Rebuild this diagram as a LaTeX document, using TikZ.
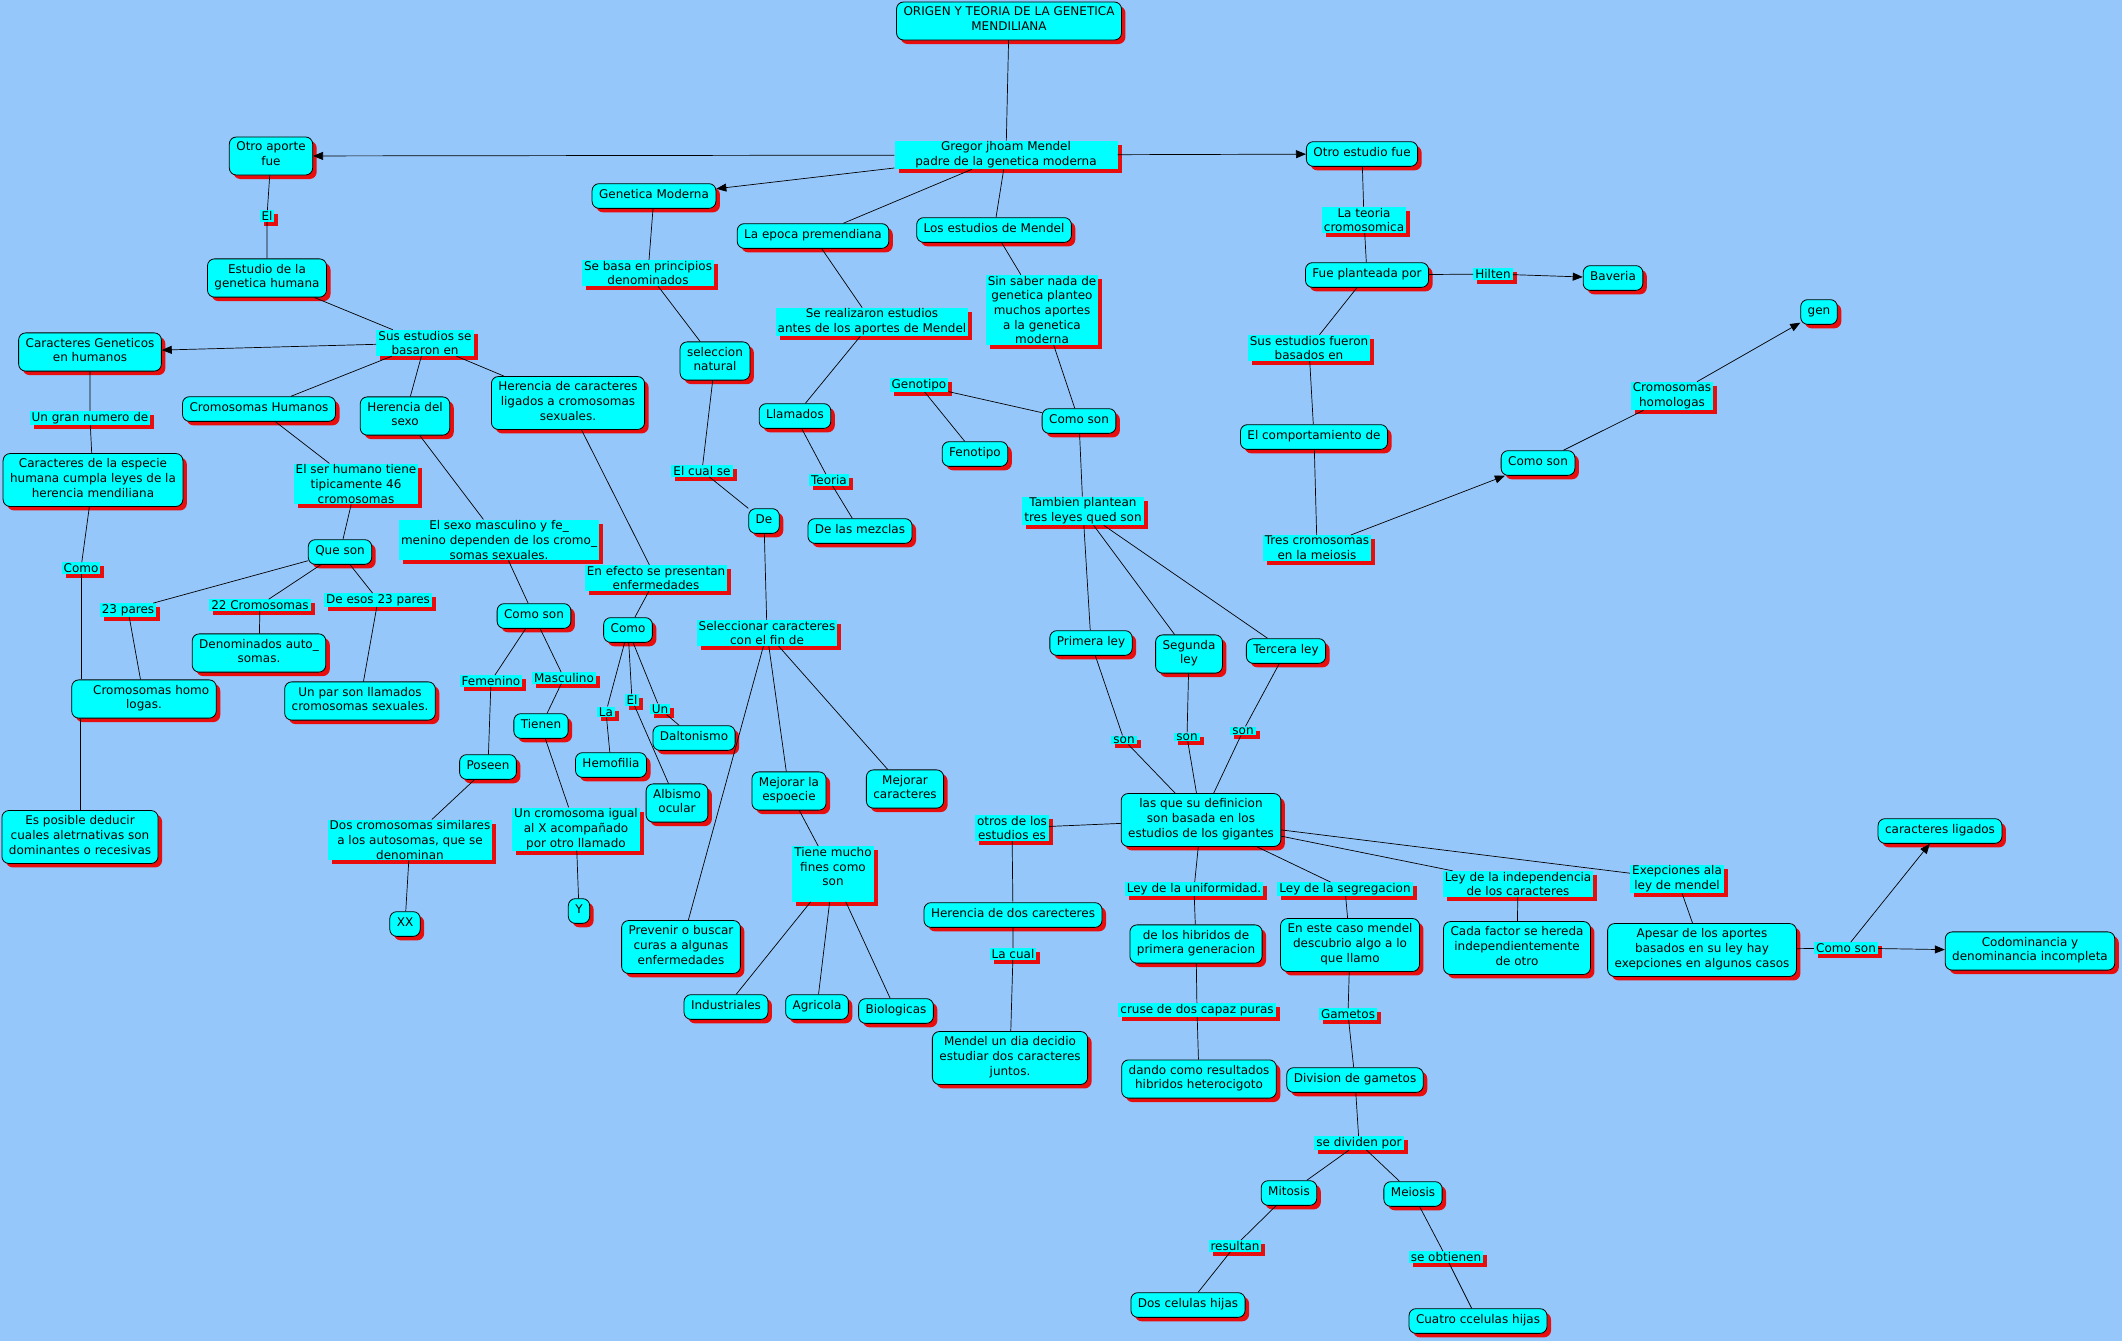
\documentclass[tikz,border=0pt]{standalone}
\usepackage{fontspec}
\setmainfont{DejaVu Sans}
\usepackage{xcolor}
\usepackage{tikz}
\usetikzlibrary{arrows.meta, positioning, shadows}
\definecolor{azulfondo}{RGB}{150,199,250}
\definecolor{cian}{RGB}{0,255,255}
\definecolor{sombra}{RGB}{232,14,14}

\begin{document}
\begin{tikzpicture}[
    x=1pt, y=-1pt,
    % 基础样式定义
    every node/.style={font=\fontsize{12}{14.7}\selectfont, align=center, text=black},
    % 概念节点
    concepto/.style={draw=black, fill=cian, rounded corners=7pt, line width=0.8pt,
        inner xsep=7pt, inner ysep=5pt,
        execute at begin node=\strut, execute at end node=\strut,
        drop shadow={shadow xshift=4pt, shadow yshift=-4pt, fill=sombra, opacity=1}},
    % 连接词
    enlace/.style={fill=cian, inner xsep=2pt, inner ysep=1pt,
        drop shadow={shadow xshift=4pt, shadow yshift=-4pt, fill=sombra, opacity=1}},
    % 连线
    linea/.style={draw=black, line width=0.7pt},
    flecha/.style={linea, -{Triangle[length=10pt, width=8pt]}}
]

% 背景
\path[use as bounding box, fill=azulfondo] (0,0) rectangle (2122,1341);

% 中心
\node[concepto] (titulo) at (1009,21) {ORIGEN Y TEORIA DE LA GENETICA\\MENDILIANA};
\node[enlace, minimum width=223pt] (gregor) at (1006,155) {Gregor jhoam Mendel\\padre de la genetica moderna};

% 左侧：人类遗传
\node[concepto] (otroaporte) at (271,156) {Otro aporte\\fue};
\node[enlace] (el1) at (267,216) {El};
\node[concepto] (estudiohum) at (267,278) {Estudio de la\\genetica humana};
\node[enlace] (susbas) at (425,343) {Sus estudios se\\basaron en};
\node[concepto] (cargen) at (90,352) {Caracteres Geneticos\\en humanos};
\node[enlace] (gran) at (90,418) {Un gran numero de};
\node[concepto] (caresp) at (93,480) {Caracteres de la especie\\humana cumpla leyes de la\\herencia mendiliana};
\node[enlace] (como1) at (81,568) {Como};
\node[concepto] (cromhomo) at (144,699) {\hspace{1.2em}Cromosomas homo\\logas.};
\node[concepto] (esposible) at (80,837) {Es posible deducir\\cuales aletrnativas son\\dominantes o recesivas};
\node[concepto] (cromhum) at (259,409) {Cromosomas Humanos};
\node[enlace] (serhum) at (356,484) {El ser humano tiene\\tipicamente 46\\cromosomas};
\node[concepto] (queson) at (340,552) {Que son};
\node[enlace] (pares23) at (128,610) {23 pares};
\node[enlace] (crom22) at (260,605) {22 Cromosomas};
\node[enlace] (deesos) at (378,600) {De esos 23 pares};
\node[concepto] (denauto) at (259,653) {Denominados auto\_\\somas.};
\node[concepto] (unpar) at (360,701) {Un par son llamados\\cromosomas sexuales.};
\node[concepto] (hersexo) at (405,416) {Herencia del\\sexo};
\node[enlace] (sexmasc) at (499,540) {El sexo masculino y fe\_\\menino dependen de los cromo\_\\somas sexuales.};
\node[concepto] (comoson1) at (534,616) {Como son};
\node[enlace] (femenino) at (491,681) {Femenino};
\node[enlace] (masculino) at (564,678) {Masculino};
\node[concepto] (poseen) at (488,767) {Poseen};
\node[concepto] (tienen) at (541,726) {Tienen};
\node[enlace] (doscrom) at (410,840) {Dos cromosomas similares\\a los autosomas, que se\\denominan};
\node[enlace] (uncrom) at (576,829) {Un cromosoma igual\\al X acompañado\\por otro llamado};
\node[concepto] (xx) at (405,924) {XX};
\node[concepto] (ye) at (579,911) {Y};
\node[concepto] (herlig) at (568,403) {Herencia de caracteres\\ligados a cromosomas\\sexuales.};
\node[enlace] (efecto) at (656,578) {En efecto se presentan\\enfermedades};
\node[concepto] (como) at (628,630) {Como};
\node[enlace] (la) at (606,712) {La};
\node[enlace] (el2) at (632,700) {El};
\node[enlace] (un) at (660,709) {Un};
\node[concepto] (hemofilia) at (611,765) {Hemofilia};
\node[concepto] (albismo) at (677,803) {Albismo\\ocular};
\node[concepto] (daltonismo) at (694,738) {Daltonismo};

% 中间：现代遗传学
\node[concepto] (genmod) at (654,196) {Genetica Moderna};
\node[enlace] (basa) at (648,273) {Se basa en principios\\denominados};
\node[concepto] (selnat) at (715,361) {seleccion\\natural};
\node[enlace] (cualse) at (702,471) {El cual se};
\node[concepto] (de) at (764,521) {De};
\node[enlace] (selcar) at (767,633) {Seleccionar caracteres\\con el fin de};
\node[concepto] (prevenir) at (681,947) {Prevenir o buscar\\curas a algunas\\enfermedades};
\node[concepto] (mejesp) at (789,791) {Mejorar la\\espoecie};
\node[concepto] (mejcar) at (905,789) {Mejorar\\caracteres};
\node[enlace] (tiene) at (833,874) {Tiene mucho\\fines como\\son\\~};
\node[concepto] (industriales) at (726,1007) {Industriales};
\node[concepto] (agricola) at (817,1007) {Agricola};
\node[concepto] (biologicas) at (896,1011) {Biologicas};
\node[concepto] (epoca) at (813,236) {La epoca premendiana};
\node[enlace] (realizaron) at (872,322) {Se realizaron estudios\\antes de los aportes de Mendel};
\node[concepto] (llamados) at (795,416) {Llamados};
\node[enlace] (teoria) at (829,480) {Teoria};
\node[concepto] (mezclas) at (860,531) {De las mezclas};

% 孟德尔定律
\node[concepto] (estmendel) at (994,230) {Los estudios de Mendel};
\node[enlace] (sinsaber) at (1042,310) {Sin saber nada de\\genetica planteo\\muchos aportes\\a la genetica\\moderna};
\node[enlace] (genotipo) at (919,385) {Genotipo};
\node[concepto] (fenotipo) at (975,454) {Fenotipo};
\node[concepto] (comoson2) at (1079,421) {Como son};
\node[enlace] (tambien) at (1083,511) {Tambien plantean\\tres leyes qued son};
\node[concepto] (primera) at (1091,643) {Primera ley};
\node[concepto] (segunda) at (1189,654) {Segunda\\ley};
\node[concepto] (tercera) at (1286,651) {Tercera ley};
\node[enlace] (son1) at (1124,740) {son};
\node[enlace] (son2) at (1187,737) {son};
\node[enlace] (son3) at (1243,731) {son};
\node[concepto] (lasque) at (1201,820) {las que su definicion\\son basada en los\\estudios de los gigantes};
\node[enlace] (otros) at (1012,828) {otros de los\\estudios es};
\node[concepto] (herdos) at (1013,915) {Herencia de dos carecteres};
\node[enlace] (lacual) at (1013,954) {La cual};
\node[concepto] (mendeldia) at (1010,1058) {Mendel un dia decidio\\estudiar dos caracteres\\juntos.};
\node[enlace] (uniform) at (1194,889) {Ley de la uniformidad.};
\node[concepto] (hibridos) at (1196,944) {de los hibridos de\\primera generacion};
\node[enlace] (cruse) at (1197,1010) {cruse de dos capaz puras};
\node[concepto] (dando) at (1199,1079) {dando como resultados\\hibridos heterocigoto};
\node[enlace] (segreg) at (1345,889) {Ley de la segregacion};
\node[concepto] (encaso) at (1350,945) {En este caso mendel\\descubrio algo a lo\\que llamo};
\node[enlace] (gametos) at (1348,1014) {Gametos};
\node[concepto] (division) at (1355,1080) {Division de gametos};
\node[enlace] (dividen) at (1359,1143) {se dividen por};
\node[concepto] (mitosis) at (1289,1193) {Mitosis};
\node[concepto] (meiosis) at (1413,1194) {Meiosis};
\node[enlace] (resultan) at (1235,1246) {resultan};
\node[enlace] (obtienen) at (1446,1257) {se obtienen};
\node[concepto] (doscel) at (1188,1305) {Dos celulas hijas};
\node[concepto] (cuatrocel) at (1478,1321) {Cuatro ccelulas hijas};
\node[enlace] (indep) at (1518,884) {Ley de la independencia\\de los caracteres};
\node[concepto] (cadafactor) at (1517,948) {Cada factor se hereda\\independientemente\\de otro};
\node[enlace] (exep) at (1677,879) {Exepciones ala\\ley de mendel};
\node[concepto] (apesar) at (1702,950) {Apesar de los aportes\\basados en su ley hay\\exepciones en algunos casos};
\node[enlace] (comoson4) at (1846,948) {Como son};
\node[concepto] (codom) at (2030,951) {Codominancia y\\denominancia incompleta};
\node[concepto] (carlig) at (1940,831) {caracteres ligados};

% 右侧：染色体理论
\node[concepto] (otroest) at (1362,154) {Otro estudio fue};
\node[enlace] (teoriacrom) at (1364,220) {La teoria\\cromosomica};
\node[concepto] (fueplant) at (1367,275) {Fue planteada por};
\node[enlace] (hilten) at (1493,274) {Hilten};
\node[concepto] (baveria) at (1613,278) {Baveria};
\node[enlace] (susfueron) at (1309,348) {Sus estudios fueron\\basados en};
\node[concepto] (comport) at (1314,437) {El comportamiento de};
\node[enlace] (tres) at (1317,548) {Tres cromosomas\\en la meiosis};
\node[concepto] (comoson3) at (1538,463) {Como son};
\node[enlace] (homologas) at (1672,396) {Cromosomas\\homologas};
\node[concepto] (gen) at (1819,312) {gen};

% 连线：中心
\draw[linea] (titulo) -- (gregor);
\draw[flecha] (gregor) -- (otroaporte);
\draw[flecha] (gregor) -- (genmod);
\draw[linea] (gregor) -- (epoca) (gregor) -- (estmendel);
\draw[flecha] (gregor) -- (otroest);

% 连线：左侧
\draw[linea] (otroaporte) -- (el1) (el1) -- (estudiohum) (estudiohum) -- (susbas);
\draw[flecha] (susbas) -- (cargen);
\draw[linea] (susbas) -- (cromhum) (susbas) -- (hersexo) (susbas) -- (herlig);
\draw[linea] (cargen) -- (gran) (gran) -- (caresp) (caresp) -- (como1);
\draw[linea] (como1) -- (como1 |- cromhomo.north);
\draw[linea] (esposible |- cromhomo.south) -- (esposible);
\draw[linea] (cromhum) -- (serhum) (serhum) -- (queson);
\draw[linea] (queson) -- (pares23) (pares23) -- (cromhomo);
\draw[linea] (queson) -- (crom22) (crom22) -- (denauto);
\draw[linea] (queson) -- (deesos) (deesos) -- (unpar);
\draw[linea] (hersexo) -- (sexmasc) (sexmasc) -- (comoson1);
\draw[linea] (comoson1) -- (femenino) (femenino) -- (poseen) (poseen) -- (doscrom) (doscrom) -- (xx);
\draw[linea] (comoson1) -- (masculino) (masculino) -- (tienen) (tienen) -- (uncrom) (uncrom) -- (ye);
\draw[linea] (herlig) -- (efecto) (efecto) -- (como);
\draw[linea] (como) -- (la) (la) -- (hemofilia);
\draw[linea] (como) -- (el2) (el2) -- (albismo);
\draw[linea] (como) -- (un) (un) -- (daltonismo);

% 连线：中间
\draw[linea] (genmod) -- (basa) (basa) -- (selnat) (selnat) -- (cualse) (cualse) -- (de) (de) -- (selcar);
\draw[linea] (selcar) -- (prevenir) (selcar) -- (mejesp) (selcar) -- (mejcar);
\draw[linea] (mejesp) -- (tiene);
\draw[linea] (tiene) -- (industriales) (tiene) -- (agricola) (tiene) -- (biologicas);
\draw[linea] (epoca) -- (realizaron) (realizaron) -- (llamados) (llamados) -- (teoria) (teoria) -- (mezclas);
\draw[linea] (estmendel) -- (sinsaber) (sinsaber) -- (comoson2);
\draw[linea] (comoson2) -- (genotipo) (genotipo) -- (fenotipo);
\draw[linea] (comoson2) -- (tambien);
\draw[linea] (tambien) -- (primera) (tambien) -- (segunda) (tambien) -- (tercera);
\draw[linea] (primera) -- (son1) (son1) -- (lasque);
\draw[linea] (segunda) -- (son2) (son2) -- (lasque);
\draw[linea] (tercera) -- (son3) (son3) -- (lasque);
\draw[linea] (lasque) -- (otros) (otros) -- (herdos) (herdos) -- (lacual) (lacual) -- (mendeldia);
\draw[linea] (lasque) -- (uniform) (uniform) -- (hibridos) (hibridos) -- (cruse) (cruse) -- (dando);
\draw[linea] (lasque) -- (segreg) (segreg) -- (encaso) (encaso) -- (gametos) (gametos) -- (division);
\draw[linea] (division) -- (dividen) (dividen) -- (mitosis) (dividen) -- (meiosis);
\draw[linea] (mitosis) -- (resultan) (resultan) -- (doscel);
\draw[linea] (meiosis) -- (obtienen) (obtienen) -- (cuatrocel);
\draw[linea] (lasque) -- (indep) (indep) -- (cadafactor);
\draw[linea] (lasque) -- (exep) (exep) -- (apesar) (apesar) -- (comoson4);
\draw[flecha] (comoson4) -- (codom);
\draw[flecha] (comoson4) -- (carlig);

% 连线：右侧
\draw[linea] (otroest) -- (teoriacrom) (teoriacrom) -- (fueplant);
\draw[linea] (fueplant) -- (hilten);
\draw[flecha] (hilten) -- (baveria);
\draw[linea] (fueplant) -- (susfueron) (susfueron) -- (comport) (comport) -- (tres);
\draw[flecha] (tres) -- (comoson3);
\draw[linea] (comoson3) -- (homologas);
\draw[flecha] (homologas) -- (gen);

\end{tikzpicture}
\end{document}
